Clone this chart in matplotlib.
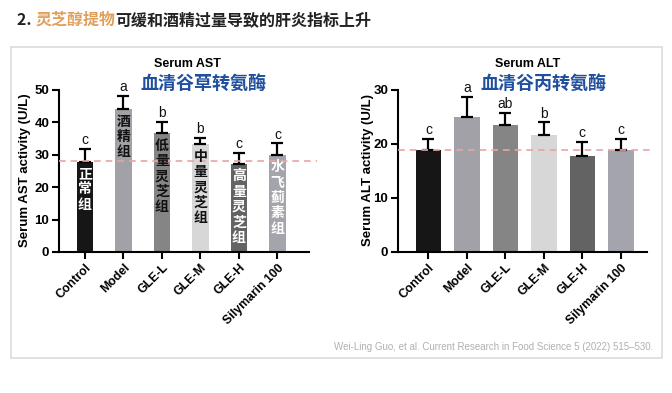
import matplotlib
matplotlib.use("Agg")
import matplotlib.pyplot as plt
from matplotlib.patches import Rectangle

plt.rcParams['font.family'] = ['Liberation Sans', 'Noto Sans CJK SC', 'DejaVu Sans']

groups = ["Control", "Model", "GLE-L", "GLE-M", "GLE-H", "Silymarin 100"]
cn_labels = ["正常组", "酒精组", "低量灵芝组", "中量灵芝组", "高量灵芝组", "水飞蓟素组"]
ast_mean = [27.8, 44.0, 36.6, 33.2, 27.1, 29.9]
ast_err = [4.0, 4.3, 3.5, 2.1, 3.4, 3.6]
ast_letters = ["c", "a", "b", "b", "c", "c"]
alt_mean = [18.8, 25.0, 23.6, 21.6, 17.8, 18.8]
alt_err = [2.1, 3.7, 2.1, 2.4, 2.5, 2.1]
alt_letters = ["c", "a", "ab", "b", "c", "c"]
ast_ref = 28.0
alt_ref = 18.8

bar_colors = ["#161616", "#a1a1a7", "#858585", "#d7d7d7", "#636363", "#a4a4ac"]
cn_text_colors = ["white", "#111111", "#111111", "#111111", "white", "white"]

W, H = 672, 393
fig = plt.figure(figsize=(W / 100, H / 100), dpi=100)


def px_axes(x0, x1, y_top, y_bot):
    return fig.add_axes([x0 / W, 1 - y_bot / H, (x1 - x0) / W, (y_bot - y_top) / H])


# panel border
fig.patches.append(Rectangle((11 / W, 1 - 358 / H), (662 - 11) / W, (358 - 47) / H,
                             transform=fig.transFigure, fill=False,
                             edgecolor="#dcdcdc", linewidth=1.2))


def draw_panel(ax, means, errs, letters, ref, ymax, yticks, width, xlim, letter_off, cn=False):
    x = list(range(len(groups)))
    ax.bar(x, means, width=width, color=bar_colors, zorder=2)
    ax.errorbar(x, means, yerr=[[0] * len(errs), errs], fmt="none", ecolor="black",
                elinewidth=1.6, capsize=4.5, capthick=1.6, zorder=3, clip_on=False)
    for xi, m, e, l in zip(x, means, errs, letters):
        ax.text(xi, m + e + letter_off, l, ha="center", va="bottom", fontsize=10,
                color="#111111", clip_on=False)
    ax.axhline(ref, xmin=0, xmax=1.03, color="#e8a4a4", linestyle=(0, (4, 3)),
               linewidth=1.2, zorder=4, clip_on=False)
    if cn:
        for xi, m, t, c in zip(x, means, cn_labels, cn_text_colors):
            ax.text(xi, m - 1.6, "\n".join(t), ha="center", va="top", fontsize=10,
                    color=c, fontweight="bold", family=["Noto Sans CJK SC"],
                    linespacing=1.12, zorder=5)
    ax.set_xlim(*xlim)
    ax.set_ylim(0, ymax)
    ax.set_yticks(yticks)
    ax.set_yticklabels([str(t) for t in yticks], fontweight="bold", fontsize=9.5)
    ax.set_xticks(x)
    ax.set_xticklabels(groups, rotation=45, ha="right", rotation_mode="anchor",
                       fontweight="bold", fontsize=8.8)
    for s in ["top", "right"]:
        ax.spines[s].set_visible(False)
    for s in ["left", "bottom"]:
        ax.spines[s].set_linewidth(1.5)
    ax.tick_params(axis="both", length=5, width=1.5, direction="out", pad=2)
    ax.set_facecolor("none")


ax1 = px_axes(59, 309, 90, 252)
draw_panel(ax1, ast_mean, ast_err, ast_letters, ast_ref, 50, [0, 10, 20, 30, 40, 50],
           0.43, (-0.675, 5.82), 0.6, cn=True)
ax2 = px_axes(398, 647, 90, 252)
draw_panel(ax2, alt_mean, alt_err, alt_letters, alt_ref, 30, [0, 10, 20, 30],
           0.66, (-0.79, 5.68), 0.35)

fig.text(25 / W, 1 - 170 / H, "Serum AST activity (U/L)", rotation=90, ha="center",
         va="center", fontsize=9.5, fontweight="bold")
fig.text(368 / W, 1 - 170 / H, "Serum ALT activity (U/L)", rotation=90, ha="center",
         va="center", fontsize=9.5, fontweight="bold")

fig.text(187 / W, 1 - 64 / H, "Serum AST", ha="center", va="center", fontsize=9,
         fontweight="bold")
fig.text(203 / W, 1 - 83 / H, "血清谷草转氨酶", ha="center", va="center", fontsize=13,
         fontweight="bold", color="#1f4f9e", family=["Noto Sans CJK SC"])
fig.text(528 / W, 1 - 64 / H, "Serum ALT", ha="center", va="center", fontsize=9,
         fontweight="bold")
fig.text(543 / W, 1 - 83 / H, "血清谷丙转氨酶", ha="center", va="center", fontsize=13,
         fontweight="bold", color="#1f4f9e", family=["Noto Sans CJK SC"])

fig.text(653 / W, 1 - 347 / H,
         "Wei-Ling Guo, et al. Current Research in Food Science 5 (2022) 515–530.",
         ha="right", va="center", fontsize=7, color="#b0b0b0")

# header
parts = [("2. ", "#222222"), ("灵芝醇提物", "#e0a05c"), ("可缓和酒精过量导致的肝炎指标上升", "#222222")]
fig.canvas.draw()
renderer = fig.canvas.get_renderer()
xpos = 17
for txt, col in parts:
    t = fig.text(xpos / W, 1 - 20 / H, txt, ha="left", va="center", fontsize=11.5,
                 fontweight="bold", color=col,
                 family=["Noto Sans CJK SC", "DejaVu Sans"])
    bb = t.get_window_extent(renderer=renderer)
    xpos += bb.width

fig.savefig("out.png", dpi=100)
